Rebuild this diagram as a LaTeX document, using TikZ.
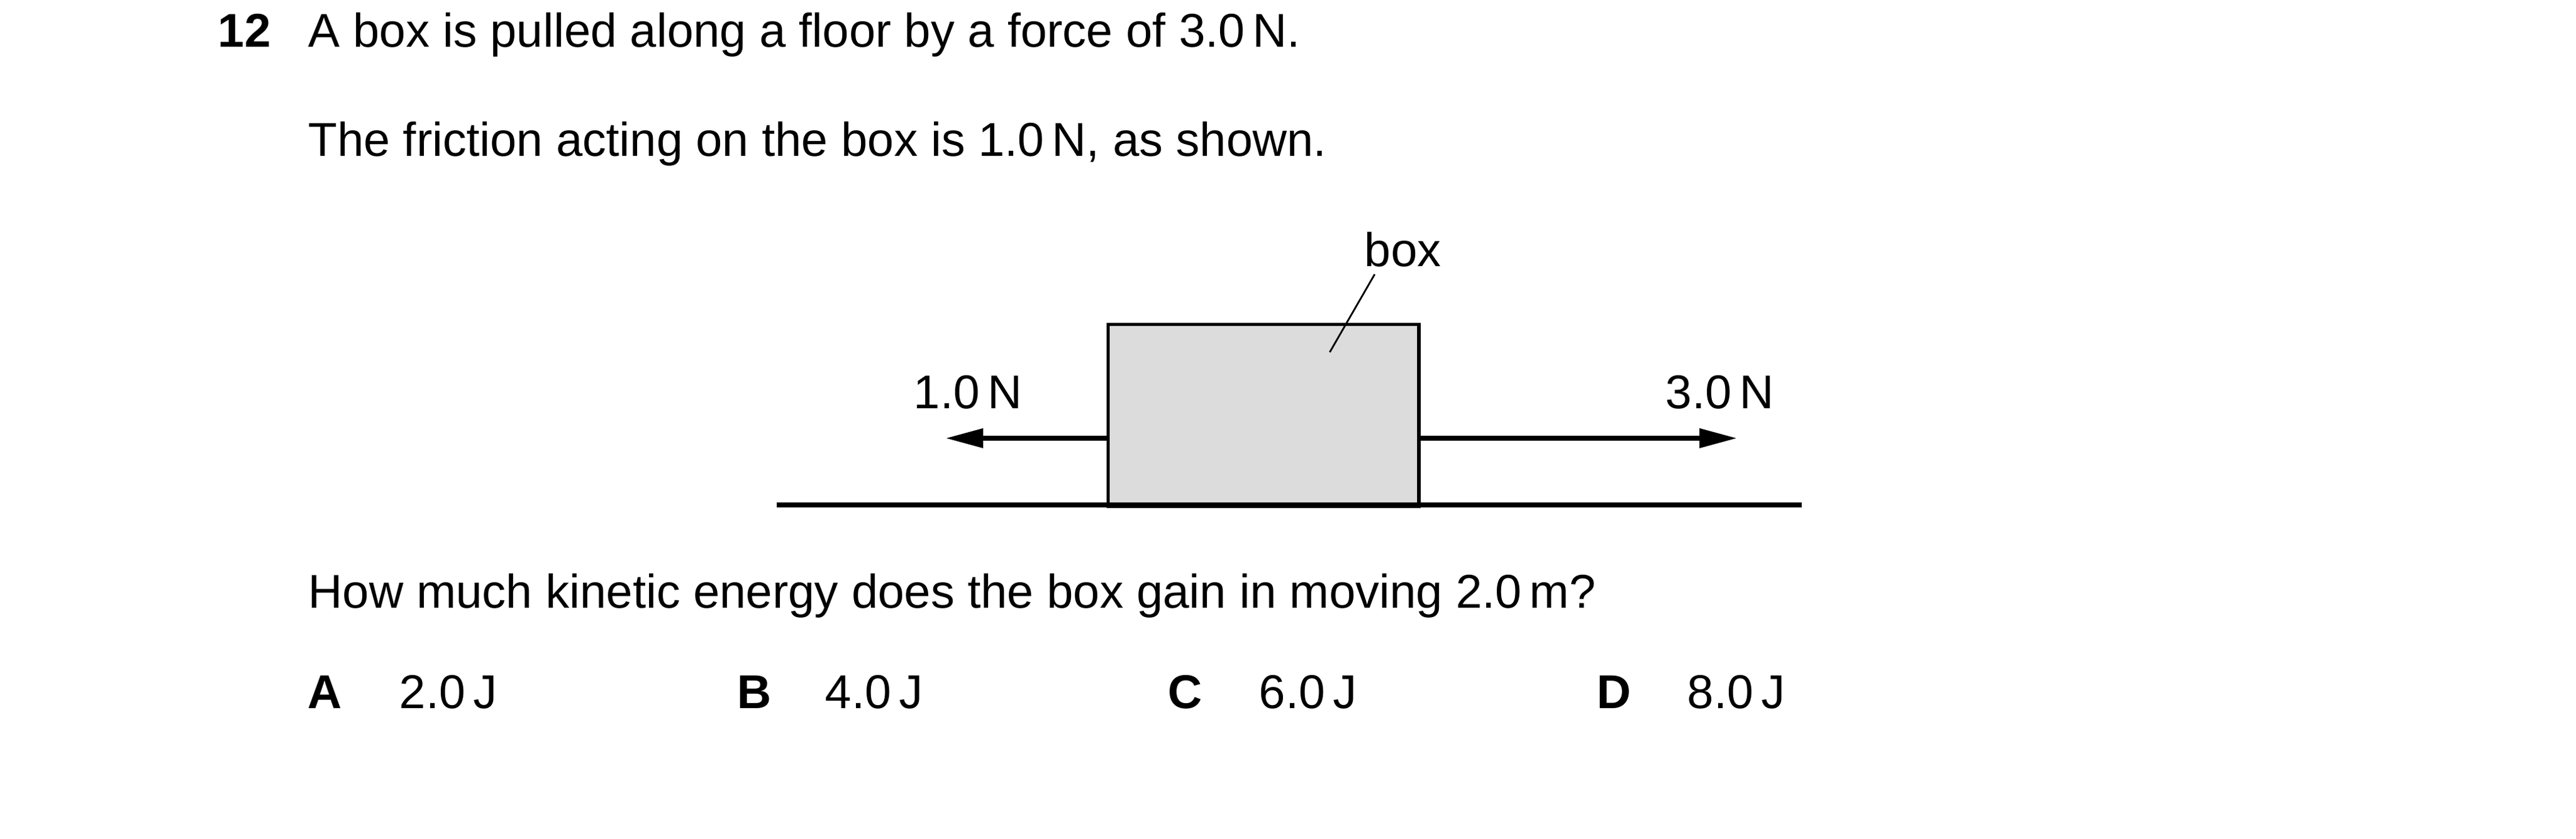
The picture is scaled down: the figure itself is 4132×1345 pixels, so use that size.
\documentclass[tikz,border=0pt]{standalone}
\usepackage{fontspec}
\setmainfont{Liberation Sans}
\usetikzlibrary{arrows.meta}
\definecolor{boxgray}{HTML}{DCDCDC}
\begin{document}
\begin{tikzpicture}[x=0.01cm,y=-0.01cm,
  txt/.style={anchor=base west,inner sep=0pt,font=\fontsize{21.65pt}{26pt}\selectfont},
  btxt/.style={txt,font=\fontsize{21.65pt}{26pt}\selectfont\bfseries},
  force/.style={line width=2pt,-{Triangle[length=0.6cm,width=0.3cm]}},
  floorline/.style={line width=2pt},
  leader/.style={line width=0.8pt},
  boxshape/.style={draw,line width=1.5pt,fill=boxgray,inner sep=0pt,anchor=north west,minimum width=4.98cm,minimum height=2.92cm}
  ]
\fill[white] (0,0) rectangle (4132,1345);
\useasboundingbox (0,0) rectangle (4132,1345);
% header text
\node[btxt] (qnum) at (349,75) {12};
\node[txt] (l1) at (494,75) {A box is pulled along a floor by a force of 3.0\,N.};
\node[txt] (l2) at (494,250) {The friction acting on the box is 1.0\,N, as shown.};
% diagram
\coordinate (fl) at (1246,810);
\coordinate (fr) at (2890,810);
\node[boxshape] (box) at (1775,518) {};
\draw[floorline] (fl) -- (fr);
\coordinate (ltip) at (1517,703);
\coordinate (rtip) at (2786,703);
\draw[force] (box.west |- ltip) -- (ltip);
\draw[force] (box.east |- rtip) -- (rtip);
\node[txt] (lab1) at (1465,655) {1.0\,N};
\node[txt] (lab3) at (2671,655) {3.0\,N};
\node[txt] (boxlab) at (2188,427) {box};
\coordinate (lla) at (2205,440);
\coordinate (llb) at (2133,565);
\draw[leader] (lla) -- (llb);
% question
\node[txt] (q) at (494,975) {How much kinetic energy does the box gain in moving 2.0\,m?};
\node[btxt] (oA) at (493,1136) {A};
\node[txt] (vA) at (640,1136) {2.0\,J};
\node[btxt] (oB) at (1182,1136) {B};
\node[txt] (vB) at (1323,1136) {4.0\,J};
\node[btxt] (oC) at (1873,1136) {C};
\node[txt] (vC) at (2019,1136) {6.0\,J};
\node[btxt] (oD) at (2561,1136) {D};
\node[txt] (vD) at (2706,1136) {8.0\,J};
\end{tikzpicture}
\end{document}
